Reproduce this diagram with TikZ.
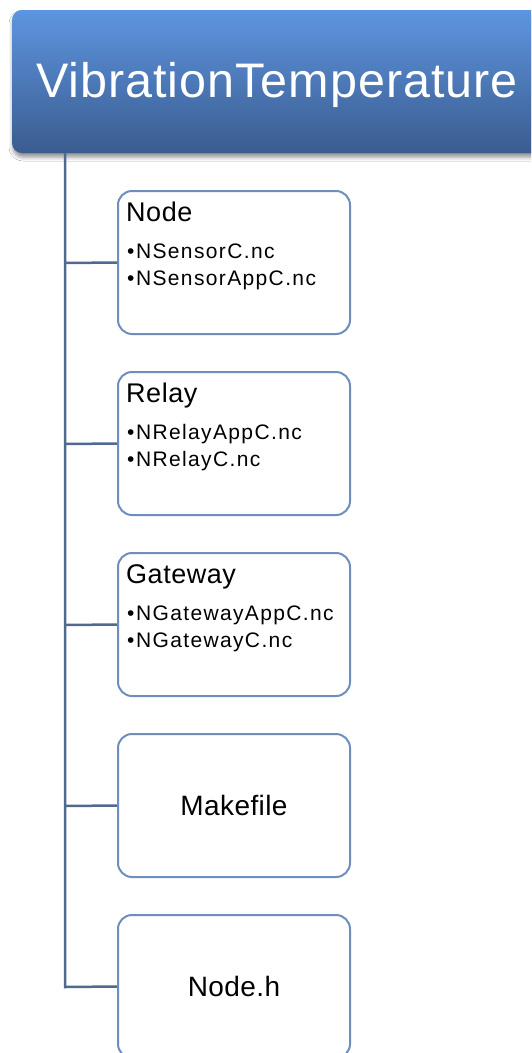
\documentclass[tikz,border=0pt]{standalone}
\usepackage{fontspec}
\setmainfont{Liberation Sans}
\usetikzlibrary{shadows.blur}
\definecolor{topblue}{HTML}{5E95E0}
\definecolor{botblue}{HTML}{3A5C8F}
\definecolor{boxedge}{HTML}{6E8EBE}
\definecolor{linkcol}{HTML}{50698F}
\tikzset{
  childbox/.style={draw=boxedge, line width=2pt, rounded corners=14pt, fill=white,
    minimum width=232pt, minimum height=143pt, inner sep=0pt},
  link/.style={draw=linkcol, line width=2.5pt},
  head/.style={font=\fontsize{27}{32}\selectfont\addfontfeature{LetterSpace=2}, inner sep=0pt, anchor=base west},
  item/.style={font=\fontsize{21}{26}\selectfont\addfontfeature{LetterSpace=6.5}, inner sep=0pt, anchor=base west},
  mid/.style={font=\fontsize{28}{32}\selectfont\addfontfeature{LetterSpace=1.5}, inner sep=0pt, anchor=base},
}
\newcommand{\bul}{•\kern1.5pt}
\begin{document}
\begin{tikzpicture}[x=1pt,y=-1pt]
\clip (0,0) rectangle (531,1053);
\fill[white] (0,0) rectangle (531,1053);
% title
\node[rounded corners=10pt, minimum width=533pt, minimum height=143pt, inner sep=0pt,
  top color=topblue, bottom color=botblue,
  blur shadow={shadow xshift=1pt, shadow yshift=-4pt, shadow blur radius=4pt, shadow opacity=45}]
  (root) at (278.5,81.5) {};
\node[font=\fontsize{48.5}{56}\selectfont\addfontfeature{LetterSpace=2}, text=white, inner sep=0pt, anchor=base]
  (roottext) at (277,97.5) {VibrationTemperature};
% children
\node[childbox] (b1) at (234,262.5) {};
\node[childbox] (b2) at (234,443.5) {};
\node[childbox] (b3) at (234,624.5) {};
\node[childbox] (b4) at (234,805.5) {};
\node[childbox] (b5) at (234,986.5) {};
\coordinate (top) at (65,153);
\coordinate (j1) at (65,263);
\coordinate (j2) at (65,444);
\coordinate (j3) at (65,625);
\coordinate (j4) at (65,806);
\coordinate (j5) at (65,987);
\draw[link] (top) -- (j5) -- (b5.west);
\draw[link] (j1) -- (b1.west);
\draw[link] (j2) -- (b2.west);
\draw[link] (j3) -- (b3.west);
\draw[link] (j4) -- (b4.west);
% texts
\node[head] (t1) at (126,221.5) {Node};
\node[item] (t1a) at (127,258.5) {\bul NSensorC.nc};
\node[item] (t1b) at (127,285.5) {\bul NSensorAppC.nc};
\node[head] (t2) at (126,402.5) {Relay};
\node[item] (t2a) at (127,439.5) {\bul NRelayAppC.nc};
\node[item] (t2b) at (127,466.5) {\bul NRelayC.nc};
\node[head] (t3) at (126,583.5) {Gateway};
\node[item] (t3a) at (127,620.5) {\bul NGatewayAppC.nc};
\node[item] (t3b) at (127,647.5) {\bul NGatewayC.nc};
\node[mid] (t4) at (234,815.5) {Makefile};
\node[mid] (t5) at (234,996.5) {Node.h};
\end{tikzpicture}
\end{document}
